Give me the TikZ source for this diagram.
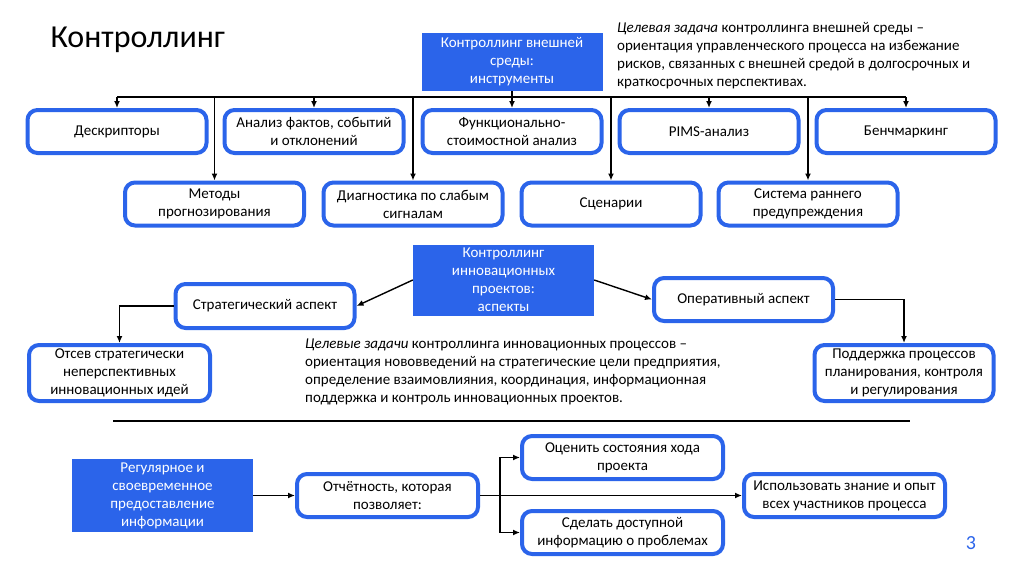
\documentclass[tikz,border=0pt]{standalone}
\usepackage{fontspec}
\setmainfont{Carlito}
\usetikzlibrary{arrows.meta}
\definecolor{slideblue}{RGB}{43,100,234}

\begin{document}
\begin{tikzpicture}[x=1pt, y=-1pt,
  tool/.style={draw=slideblue, line width=4pt, rounded corners=10pt, fill=white,
    align=center, inner sep=0pt, minimum width=179pt, minimum height=43pt,
    font=\fontsize{15}{18}\selectfont},
  head/.style={fill=slideblue, text=white, align=center, inner sep=0pt,
    minimum width=181pt, font=\fontsize{15}{18}\selectfont},
  note/.style={anchor=north west, align=left, inner sep=0pt,
    font=\fontsize{15}{18}\selectfont},
  wire/.style={line width=1.4pt},
  link/.style={line width=1.4pt, -{Latex[length=7pt,width=6pt]}}]
  \useasboundingbox (0,0) rectangle (1024,576);
  % Title
  \node[anchor=base west, font=\fontsize{32}{38}\selectfont] (title) at (47,47) {Контроллинг};
  % External environment: tools
  \node[head, minimum height=58pt] (ext) at (512,62) {Контроллинг внешней\\среды:\\инструменты};
  \node[note] (goal) at (617,22) {\textit{Целевая задача} контроллинга внешней среды –\\
    ориентация управленческого процесса на избежание\\
    рисков, связанных с внешней средой в долгосрочных и\\
    краткосрочных перспективах.};
  \node[tool] (desc) at (117,131.5) {Дескрипторы};
  \node[tool] (facts) at (314,131.5) {Анализ фактов, событий\\и отклонений};
  \node[tool] (fsa) at (512,131.5) {Функционально-\\стоимостной анализ};
  \node[tool] (pims) at (709,131.5) {PIMS-анализ};
  \node[tool] (bench) at (906,131.5) {Бенчмаркинг};
  \node[tool] (forecast) at (214.5,204) {Методы\\прогнозирования};
  \node[tool] (signals) at (413,204) {Диагностика по слабым\\сигналам};
  \node[tool] (scen) at (611,204) {Сценарии};
  \node[tool] (warn) at (808,204) {Система раннего\\предупреждения};
  \coordinate (busL) at (117,97);
  \coordinate (busR) at (906,97);
  \draw[wire] (busL) -- (busR);
  \draw[link] (ext) -- (fsa);
  \foreach \n in {desc,facts,pims,bench,forecast,signals,scen,warn}
    \draw[link] (\n.north |- busL) -- (\n.north);
  % Innovation projects: aspects
  \node[head, minimum height=71pt] (innov) at (503.5,280) {Контроллинг\\инновационных\\проектов:\\аспекты};
  \node[tool, minimum height=44pt] (strat) at (265,306) {Стратегический аспект};
  \node[tool] (oper) at (743.5,299.5) {Оперативный аспект};
  \node[tool, minimum width=181pt, minimum height=56pt] (drop) at (119.5,373) {Отсев стратегически\\неперспективных\\инновационных идей};
  \node[tool, minimum height=56pt] (support) at (904,373) {Поддержка процессов\\планирования, контроля\\и регулирования};
  \node[note] (aims) at (305,339) {\textit{Целевые задачи} контроллинга инновационных процессов –\\
    ориентация нововведений на стратегические цели предприятия,\\
    определение взаимовлияния, координация, информационная\\
    поддержка и контроль инновационных проектов.};
  \draw[link] (innov.west) -- (strat.east);
  \draw[link] (innov.east) -- (oper.west);
  \draw[link] (strat.west) -| (drop.north);
  \draw[link] (oper.east) -| (support.north);
  \draw[line width=2.5pt] (113,421) -- (910,421);
  % Reporting
  \node[head, minimum height=73pt] (regular) at (162.5,495.5) {Регулярное и\\своевременное\\предоставление\\информации};
  \node[tool, minimum width=181pt] (report) at (387.5,495.5) {Отчётность, которая\\позволяет:};
  \node[tool, minimum width=201pt] (assess) at (622.5,457.5) {Оценить состояния хода\\проекта};
  \node[tool, minimum width=201pt] (share) at (622.5,532.5) {Сделать доступной\\информацию о проблемах};
  \node[tool, minimum width=201pt] (use) at (844.5,495.5) {Использовать знание и опыт\\всех участников процесса};
  \coordinate (fork) at (500,495.5);
  \draw[link] (regular) -- (report);
  \draw[link] (report) -- (use);
  \draw[link] (fork) |- (assess);
  \draw[link] (fork) |- (share);
  \node[text=slideblue, font=\fontsize{20}{24}\selectfont] (page) at (971,543) {3};
\end{tikzpicture}
\end{document}
